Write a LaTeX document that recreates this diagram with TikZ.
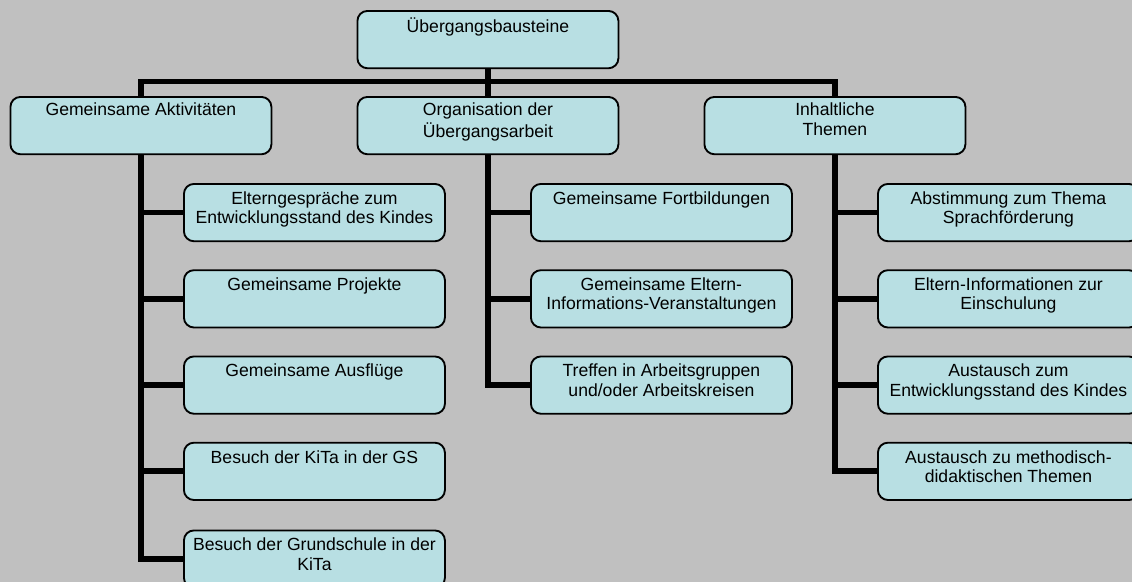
\documentclass[tikz,border=0pt]{standalone}
\usepackage{fontspec}
\setmainfont{Liberation Sans}
\usetikzlibrary{backgrounds}
\definecolor{bg}{RGB}{192,192,192}
\definecolor{boxfill}{RGB}{184,223,227}
\tikzset{
  box/.style={draw=black, line width=1.4pt, fill=boxfill, rounded corners=7.5pt,
    minimum width=195.75pt, minimum height=43pt, inner sep=0pt, anchor=north west},
  txt/.style={align=center, inner sep=0pt, anchor=north, text=black,
    font=\fontsize{13.2pt}{14.5pt}\selectfont},
  conn/.style={line width=4.3pt, line join=miter, draw=black},
}
\newcommand\mkbox[5]{%
  \node[box] (#1) at (#2,#3) {};
  \node[txt] (#1t) at ([yshift=-#4]#1.north) {\strut #5};}
\begin{document}
\begin{tikzpicture}[x=0.75pt,y=-0.75pt]
\useasboundingbox (0,0) rectangle (1132,582);
% boxes
\mkbox{top}{356.5}{10}{5.4pt}{Übergangsbausteine}
\mkbox{A}{9.5}{96}{4.6pt}{Gemeinsame Aktivitäten}
\mkbox{B}{356.5}{96}{4.6pt}{Organisation der\\Übergangsarbeit}
\mkbox{C}{703.5}{96}{4.6pt}{Inhaltliche\\Themen}
\mkbox{A1}{183}{183}{5.6pt}{Elterngespräche zum\\Entwicklungsstand des Kindes}
\mkbox{A2}{183}{269.25}{5.6pt}{Gemeinsame Projekte}
\mkbox{A3}{183}{355.5}{5.6pt}{Gemeinsame Ausflüge}
\mkbox{A4}{183}{441.75}{5.6pt}{Besuch der KiTa in der GS}
\mkbox{A5}{183}{529.5}{5.6pt}{Besuch der Grundschule in der\\KiTa}
\mkbox{B1}{530}{183}{5.6pt}{Gemeinsame Fortbildungen}
\mkbox{B2}{530}{269.25}{5.6pt}{Gemeinsame Eltern-\\Informations-Veranstaltungen}
\mkbox{B3}{530}{355.5}{5.6pt}{Treffen in Arbeitsgruppen\\und/oder Arbeitskreisen}
\mkbox{C1}{877}{183}{5.6pt}{Abstimmung zum Thema\\Sprachförderung}
\mkbox{C2}{877}{269.25}{5.6pt}{Eltern-Informationen zur\\Einschulung}
\mkbox{C3}{877}{355.5}{5.6pt}{Austausch zum\\Entwicklungsstand des Kindes}
\mkbox{C4}{877}{441.75}{5.6pt}{Austausch zu methodisch-\\didaktischen Themen}
\coordinate (barlevel) at (0,81.5);
\coordinate (hub) at (top.south |- barlevel);
\begin{scope}[on background layer]
  \fill[bg] (0,0) rectangle (1132,582);
  \draw[conn] (top.south) -- (hub);
  \draw[conn] (hub) -- (B.north);
  \draw[conn] (hub) -| (A.north);
  \draw[conn] (hub) -| (C.north);
  \foreach \c in {A1,A2,A3,A4,A5} \draw[conn] (A.south) |- (\c.west);
  \foreach \c in {B1,B2,B3} \draw[conn] (B.south) |- (\c.west);
  \foreach \c in {C1,C2,C3,C4} \draw[conn] (C.south) |- (\c.west);
\end{scope}
\end{tikzpicture}
\end{document}
